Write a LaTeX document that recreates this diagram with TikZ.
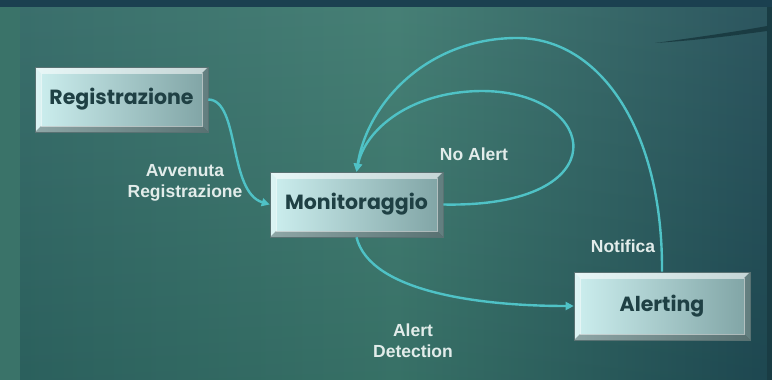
\documentclass[tikz,border=0pt]{standalone}
\usepackage{fontspec}
\setmainfont{Liberation Sans}
\newfontfamily\boxfont{Poppins}
\usetikzlibrary{arrows.meta}
\definecolor{bgL}{HTML}{2E6663}
\definecolor{bgM}{HTML}{3B786D}
\definecolor{bgR}{HTML}{1F4B55}
\definecolor{topband}{HTML}{1B4050}
\definecolor{strip}{HTML}{3A7369}
\definecolor{boxL}{HTML}{CDEFEF}
\definecolor{boxR}{HTML}{7FA3A4}
\definecolor{boxText}{HTML}{1F4044}
\definecolor{lineC}{HTML}{4FC2C6}
\definecolor{lblC}{HTML}{E2ECEA}
\tikzset{
  statebox/.style={minimum width=173pt, minimum height=65pt, inner sep=0pt,
    left color=boxL, right color=boxR, draw=boxR!70!black, line width=0.6pt,
    font=\boxfont\bfseries\fontsize{20.5}{24}\selectfont, text=boxText,
    path picture={
      \fill[white,opacity=.55] (path picture bounding box.north west) -- (path picture bounding box.north east)
        -- ([shift={(-6,6)}]path picture bounding box.north east) -- ([shift={(6,6)}]path picture bounding box.north west) -- cycle;
      \fill[white,opacity=.3] (path picture bounding box.north west) -- (path picture bounding box.south west)
        -- ([shift={(6,-6)}]path picture bounding box.south west) -- ([shift={(6,6)}]path picture bounding box.north west) -- cycle;
      \fill[black,opacity=.3] (path picture bounding box.south west) -- (path picture bounding box.south east)
        -- ([shift={(-6,-6)}]path picture bounding box.south east) -- ([shift={(6,-6)}]path picture bounding box.south west) -- cycle;
      \fill[black,opacity=.22] (path picture bounding box.north east) -- (path picture bounding box.south east)
        -- ([shift={(-6,-6)}]path picture bounding box.south east) -- ([shift={(-6,6)}]path picture bounding box.north east) -- cycle;
      \draw[white,opacity=.5,line width=.6pt] ([shift={(6,6)}]path picture bounding box.north west) rectangle ([shift={(-6,-6)}]path picture bounding box.south east);
    }},
  conn/.style={draw=lineC, line width=2.4pt, -{Triangle[length=8pt,width=8pt]}},
  lbl/.style={text=lblC, font=\bfseries\fontsize{17.5}{21}\selectfont, align=center, inner sep=0pt}
}
\begin{document}
\begin{tikzpicture}[x=1pt,y=-1pt]
\useasboundingbox (0,0) rectangle (772,380);
% background
\fill[strip] (0,0) rectangle (20,380);
\shade[left color=bgL, right color=bgR, middle color=bgM] (20,7) rectangle (772,380);
\shade[top color=black!0, bottom color=black, opacity=.06] (20,7) rectangle (772,380);
\fill[topband] (0,0) rectangle (772,7);
\fill[bgR!80!black] (767,7) rectangle (772,380);
\fill[bgR!70!black,opacity=.8] (655,43) .. controls (700,37) and (740,31) .. (767,26) -- (767,31) .. controls (730,36) and (700,40) .. (655,43) -- cycle;
% nodes
\node[statebox] (reg) at (121.5,99.5) {Registrazione};
\node[statebox] (mon) at (356.5,204.5) {Monitoraggio};
\node[statebox, minimum width=176pt, minimum height=68pt] (alt) at (662,306) {Alerting};
% connectors
\draw[conn] (reg.east) .. controls (240,100) and (228,192) .. (mon.west);
\draw[conn] (mon.east) .. controls (620,208) and (600,92) .. (483,91) .. controls (410,91) and (365,130) .. (mon.north);
\draw[conn] (alt.north) .. controls (663,130) and (600,38) .. (517,38) .. controls (430,38) and (368,100) .. (mon.north);
\draw[conn] (mon.south) .. controls (370,292) and (480,306) .. (alt.west);
% labels
\node[lbl] (l1) at (185,183) {Avvenuta\\Registrazione};
\node[lbl] (l2) at (474,154) {No Alert};
\node[lbl] (l3) at (623,246) {Notifica};
\node[lbl] (l4) at (413,341) {Alert\\Detection};
\end{tikzpicture}
\end{document}
